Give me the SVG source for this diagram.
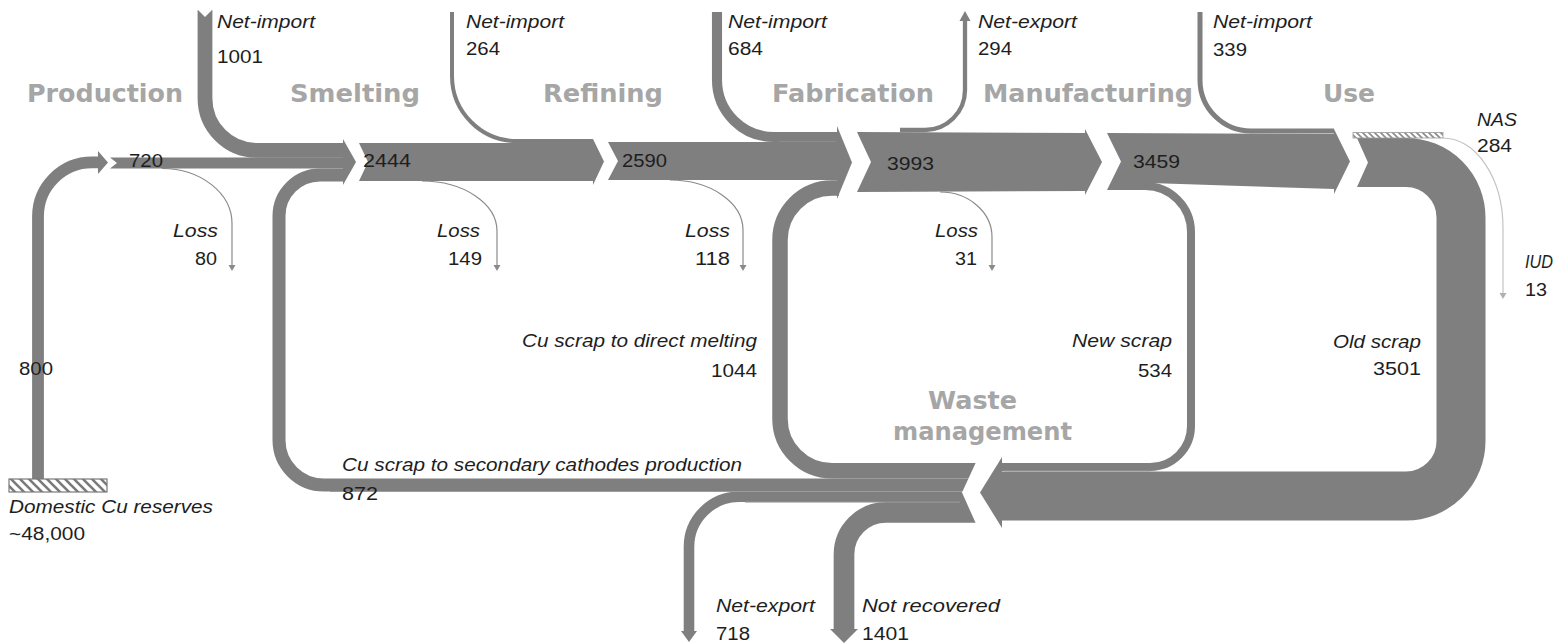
<svg xmlns="http://www.w3.org/2000/svg" width="1554" height="643" viewBox="0 0 1554 643">
<defs>
<style>
.flow{fill:none;stroke:#7f7f7f;stroke-linejoin:round}
.band{fill:#7f7f7f}
.seam{fill:none;stroke:#9c9c9c;stroke-width:1}
.loss{fill:none;stroke:#8a8a8a;stroke-width:1.2}
.tip{fill:#8a8a8a}
.gap{fill:#ffffff}
.stage{font-family:"DejaVu Sans",Verdana,sans-serif;font-weight:bold;font-size:24px;fill:#a6a6a6}
.lab{font-family:"Liberation Sans",Arial,sans-serif;font-style:italic;font-size:17.5px;fill:#1e1e1e}
.num{font-family:"Liberation Sans",Arial,sans-serif;font-size:17.5px;fill:#1e1e1e}
</style>
<pattern id="hatch" patternUnits="userSpaceOnUse" width="9" height="9">
<rect width="9" height="9" fill="#ffffff"/>
<path d="M-2,-2 L11,11 M-2,7 L2,11 M7,-2 L11,2" stroke="#7a7a7a" stroke-width="2.6"/>
</pattern>
<pattern id="hatch2" patternUnits="userSpaceOnUse" width="6" height="6">
<rect width="6" height="6" fill="#ffffff"/>
<path d="M-1,-1 L7,7 M-1,5 L1,7 M5,-1 L7,1" stroke="#8a8a8a" stroke-width="1.6"/>
</pattern>
</defs>
<rect width="1554" height="643" fill="#ffffff"/>

<g id="connectors">
<!-- domestic reserves to production -->
<path class="flow" stroke-width="11.8" d="M38,479 V216 A54,54 0 0 1 92,162.4 H99"/>
<polygon class="band" points="98,151 108,162.4 98,174"/>
<!-- net-import 1001 -->
<path class="flow" stroke-width="14.8" d="M205,10 V98 A52,52 0 0 0 257,150.4 H344"/>
<polygon class="gap" points="196,8 214,8 205,17"/>
<!-- secondary cathodes 872 -->
<path class="flow" stroke-width="13" d="M976,485 H324 A45,45 0 0 1 279,440 V216 A41,41 0 0 1 320,175 H344"/>
<!-- smelting arrowhead -->
<polygon class="band" points="343,139 356,162 343,185"/>
<!-- net-import 264 -->
<path class="flow" stroke-width="4" d="M452,12 V76 A65,65 0 0 0 517,141 H593"/>
<!-- net-import 684 -->
<path class="flow" stroke-width="10.1" d="M717,12 V80 A57,57 0 0 0 774,137 H839"/>
<!-- direct melting 1044 -->
<path class="flow" stroke-width="15.5" d="M976,470.75 H832 A52,52 0 0 1 780,418.75 V240 A52,52 0 0 1 832,188 H839"/>
<!-- fabrication arrowhead -->
<polygon class="band" points="837,126 852,162.5 837,199"/>
<!-- net-export 294 -->
<path class="flow" stroke-width="4.3" d="M900,130 H925 A40,40 0 0 0 965,90 V20"/>
<polygon class="band" points="959.5,21 970.5,21 965,11"/>
<!-- new scrap 534 -->
<path class="flow" stroke-width="8" d="M1112,186 H1145 A46,46 0 0 1 1191,232 V426 A41,41 0 0 1 1150,467 H1001"/>
<!-- net-import 339 -->
<path class="flow" stroke-width="5" d="M1200,12 V80 A51,51 0 0 0 1251,131 H1334"/>
<!-- use to old scrap -->
<path class="flow" stroke-width="49" d="M1370,162.5 H1406 A55,55 0 0 1 1461,217.5 V441 A55,55 0 0 1 1406,496 H1001"/>
<!-- waste input arrowhead -->
<polygon class="band" points="1002,457 980,492.5 1002,528"/>
<!-- net-export 718 -->
<path class="flow" stroke-width="10.6" d="M976,496.8 H739 A50,50 0 0 0 689,546.8 V632"/>
<polygon class="band" points="681,631 697,631 689,642"/>
<!-- not recovered 1401 -->
<path class="flow" stroke-width="20.7" d="M976,512.45 H886 A42,42 0 0 0 844,554.45 V630"/>
<polygon class="band" points="830,629 858,629 844,643"/>
<!-- seams between stacked flows -->
<path class="seam" d="M262,157.6 H342 M779,142 H836 M834,180.2 H836 M840,478.5 H960 M330,491.5 H960 M745,502.1 H960 M1004,471 H1150"/>
<!-- notch of waste output band -->
<polygon class="gap" points="977,460 962,492.5 977,526"/>
<!-- losses -->
<path class="loss" d="M162,168.5 A70,55 0 0 1 232,223.5 V266"/>
<polygon class="tip" points="228.5,265 235.5,265 232,271"/>
<path class="loss" d="M422,181 A75,50 0 0 1 497,231 V266"/>
<polygon class="tip" points="493.5,265 500.5,265 497,271"/>
<path class="loss" d="M670,180 A73,50 0 0 1 743,230 V266"/>
<polygon class="tip" points="739.5,265 746.5,265 743,271"/>
<path class="loss" d="M940,192 A52,45 0 0 1 992,237 V266"/>
<polygon class="tip" points="988.5,265 995.5,265 992,271"/>
<path class="loss" style="stroke:#c4c4c4" d="M1443,138 A60,90 0 0 1 1503,228 V294"/>
<polygon class="tip" style="fill:#b0b0b0" points="1499.5,293 1506.5,293 1503,299"/>
</g>

<g id="node-reserves">
<rect x="9" y="479" width="98" height="13" fill="url(#hatch)" stroke="#7a7a7a" stroke-width="1.2"/>
<text class="lab" x="9" y="513" textLength="204" lengthAdjust="spacingAndGlyphs">Domestic Cu reserves</text>
<text class="num" x="9" y="540" textLength="76" lengthAdjust="spacingAndGlyphs">~48,000</text>
<text class="num" x="19" y="375" textLength="34" lengthAdjust="spacingAndGlyphs">800</text>
</g>

<g id="node-production">
<polygon class="band" points="110,157.6 344,157.6 344,168.6 110,168.6 117,163"/>
<text class="stage" x="27" y="102" textLength="156" lengthAdjust="spacingAndGlyphs">Production</text>
<text class="num" x="129" y="167" textLength="34" lengthAdjust="spacingAndGlyphs">720</text>
<text class="lab" x="173" y="237" textLength="45" lengthAdjust="spacingAndGlyphs">Loss</text>
<text class="num" x="195" y="265" textLength="22" lengthAdjust="spacingAndGlyphs">80</text>
</g>

<g id="node-smelting">
<polygon class="band" points="359,143 593,143 593,139 604,161.5 593,185 593,181 359,181 368,162"/>
<text class="stage" x="290" y="102" textLength="130" lengthAdjust="spacingAndGlyphs">Smelting</text>
<text class="num" x="363" y="167" textLength="48" lengthAdjust="spacingAndGlyphs">2444</text>
<text class="lab" x="217" y="28" textLength="98" lengthAdjust="spacingAndGlyphs">Net-import</text>
<text class="num" x="217" y="63" textLength="46" lengthAdjust="spacingAndGlyphs">1001</text>
<text class="lab" x="437" y="237" textLength="43" lengthAdjust="spacingAndGlyphs">Loss</text>
<text class="num" x="448" y="265" textLength="34" lengthAdjust="spacingAndGlyphs">149</text>
</g>

<g id="node-refining">
<polygon class="band" points="608,142 839,142 839,180 608,180 618,161"/>
<text class="stage" x="543" y="102" textLength="120" lengthAdjust="spacingAndGlyphs">Refining</text>
<text class="num" x="622" y="167" textLength="45" lengthAdjust="spacingAndGlyphs">2590</text>
<text class="lab" x="466" y="28" textLength="98" lengthAdjust="spacingAndGlyphs">Net-import</text>
<text class="num" x="466" y="55" textLength="34" lengthAdjust="spacingAndGlyphs">264</text>
<text class="lab" x="685" y="237" textLength="45" lengthAdjust="spacingAndGlyphs">Loss</text>
<text class="num" x="695" y="265" textLength="35" lengthAdjust="spacingAndGlyphs">118</text>
</g>

<g id="node-fabrication">
<polygon class="band" points="857,132 1085,133 1085,129 1102,162 1085,195 1085,191 857,192 871,162"/>
<text class="stage" x="772" y="102" textLength="162" lengthAdjust="spacingAndGlyphs">Fabrication</text>
<text class="num" x="887" y="170" textLength="47" lengthAdjust="spacingAndGlyphs">3993</text>
<text class="lab" x="728" y="28" textLength="99" lengthAdjust="spacingAndGlyphs">Net-import</text>
<text class="num" x="728" y="55" textLength="35" lengthAdjust="spacingAndGlyphs">684</text>
<text class="lab" x="935" y="237" textLength="43" lengthAdjust="spacingAndGlyphs">Loss</text>
<text class="num" x="955" y="265" textLength="22" lengthAdjust="spacingAndGlyphs">31</text>
<text class="lab" x="522" y="347" textLength="235" lengthAdjust="spacingAndGlyphs">Cu scrap to direct melting</text>
<text class="num" x="711" y="377" textLength="46" lengthAdjust="spacingAndGlyphs">1044</text>
</g>

<g id="node-manufacturing">
<polygon class="band" points="1107,133 1334,134 1334,129 1350,161.5 1334,194 1334,189 1150,183 1140,190 1107,190 1121,161.5"/>
<text class="stage" x="983" y="102" textLength="210" lengthAdjust="spacingAndGlyphs">Manufacturing</text>
<text class="num" x="1133" y="168" textLength="47" lengthAdjust="spacingAndGlyphs">3459</text>
<text class="lab" x="978" y="28" textLength="99" lengthAdjust="spacingAndGlyphs">Net-export</text>
<text class="num" x="978" y="55" textLength="34" lengthAdjust="spacingAndGlyphs">294</text>
<text class="lab" x="1072" y="347" textLength="100" lengthAdjust="spacingAndGlyphs">New scrap</text>
<text class="num" x="1138" y="377" textLength="34" lengthAdjust="spacingAndGlyphs">534</text>
</g>

<g id="node-use">
<polygon class="band" points="1357,138 1372,138 1372,187 1357,187 1368,162.5"/>
<rect x="1353" y="132.5" width="90" height="5.5" fill="url(#hatch2)" stroke="#9a9a9a" stroke-width="0.8"/>
<text class="stage" x="1323" y="102" textLength="52" lengthAdjust="spacingAndGlyphs">Use</text>
<text class="lab" x="1213" y="28" textLength="99" lengthAdjust="spacingAndGlyphs">Net-import</text>
<text class="num" x="1213" y="56" textLength="34" lengthAdjust="spacingAndGlyphs">339</text>
<text class="lab" x="1477" y="126" textLength="40" lengthAdjust="spacingAndGlyphs">NAS</text>
<text class="num" x="1477" y="152" textLength="35" lengthAdjust="spacingAndGlyphs">284</text>
<text class="lab" x="1525" y="268" textLength="28" lengthAdjust="spacingAndGlyphs">IUD</text>
<text class="num" x="1525" y="296" textLength="22" lengthAdjust="spacingAndGlyphs">13</text>
<text class="lab" x="1333" y="348" textLength="88" lengthAdjust="spacingAndGlyphs">Old scrap</text>
<text class="num" x="1373" y="375" textLength="48" lengthAdjust="spacingAndGlyphs">3501</text>
</g>

<g id="node-waste-management">
<text class="stage" x="928" y="409" textLength="89" lengthAdjust="spacingAndGlyphs">Waste</text>
<text class="stage" x="893" y="440" textLength="179" lengthAdjust="spacingAndGlyphs">management</text>
<text class="lab" x="342" y="471" textLength="400" lengthAdjust="spacingAndGlyphs">Cu scrap to secondary cathodes production</text>
<text class="num" x="342" y="500" textLength="36" lengthAdjust="spacingAndGlyphs">872</text>
<text class="lab" x="716" y="612" textLength="99" lengthAdjust="spacingAndGlyphs">Net-export</text>
<text class="num" x="716" y="640" textLength="34" lengthAdjust="spacingAndGlyphs">718</text>
<text class="lab" x="862" y="612" textLength="138" lengthAdjust="spacingAndGlyphs">Not recovered</text>
<text class="num" x="862" y="640" textLength="47" lengthAdjust="spacingAndGlyphs">1401</text>
</g>
</svg>
